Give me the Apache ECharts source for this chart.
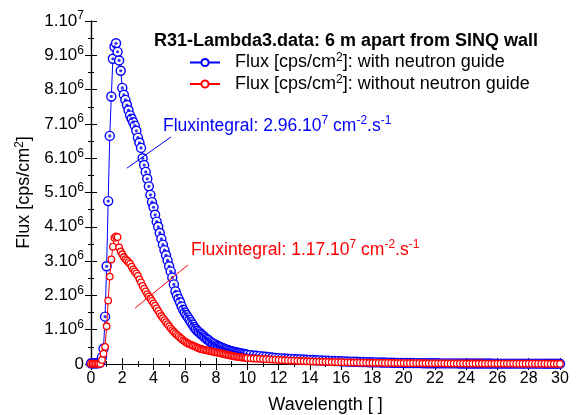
<!DOCTYPE html>
<html><head><meta charset="utf-8">
<script src="https://cdn.jsdelivr.net/npm/echarts@6/dist/echarts.min.js"></script>
<style>html,body{margin:0;padding:0;background:#fff}#c{width:580px;height:415px}</style>
</head><body><div id="c"></div>
<script>
// Wavelength values (x)
const wavelength = [
0,0.1,0.2,0.3,0.4,0.5,0.6,0.7,0.8,0.9,
1,1.1,1.2,1.3,1.4,1.5,1.6,1.7,1.8,1.9,
2,2.1,2.2,2.3,2.4,2.5,2.6,2.7,2.8,2.9,
3,3.1,3.2,3.3,3.4,3.5,3.6,3.7,3.8,3.9,
4,4.1,4.2,4.3,4.4,4.5,4.6,4.7,4.8,4.9,
5,5.1,5.2,5.3,5.4,5.5,5.6,5.7,5.8,5.9,
6,6.1,6.2,6.3,6.4,6.5,6.6,6.7,6.8,6.9,
7,7.1,7.2,7.3,7.4,7.5,7.6,7.7,7.8,7.9,
8,8.1,8.2,8.3,8.4,8.5,8.6,8.7,8.8,8.9,
9,9.1,9.2,9.3,9.4,9.5,9.6,9.7,9.8,9.9,
10,
10.2,10.4,10.6,10.8,11,11.2,11.4,11.6,11.8,12,
12.2,12.4,12.6,12.8,13,13.2,13.4,13.6,13.8,14,
14.2,14.4,14.6,14.8,15,15.2,15.4,15.6,15.8,16,
16.2,16.4,16.6,16.8,17,17.2,17.4,17.6,17.8,18,
18.2,18.4,18.6,18.8,19,19.2,19.4,19.6,19.8,20,
20.2,20.4,20.6,20.8,21,21.2,21.4,21.6,21.8,22,
22.2,22.4,22.6,22.8,23,23.2,23.4,23.6,23.8,24,
24.2,24.4,24.6,24.8,25,25.2,25.4,25.6,25.8,26,
26.2,26.4,26.6,26.8,27,27.2,27.4,27.6,27.8,28,
28.2,28.4,28.6,28.8,29,29.2,29.4,29.6,29.8,30
];
// Flux with neutron guide, in units of 10^6 cps/cm^2
const fluxWithGuide = [
0.02,0.02,0.02,0.02,0.02,0.03,0.05,0.2,0.45,1.38,
2.85,4.75,6.65,7.8,8.9,9.25,9.35,9.1,8.85,8.55,
8.05,7.85,7.7,7.55,7.4,7.25,7.15,7.05,6.95,6.8,
6.6,6.45,6.3,6.0,5.8,5.6,5.4,5.18,4.93,4.72,
4.57,4.35,4.15,4.0,3.82,3.65,3.48,3.32,3.17,3.02,
2.85,2.7,2.52,2.32,2.12,2.0,1.9,1.8,1.68,1.58,
1.5,1.43,1.36,1.29,1.22,1.15,1.08,1.02,0.97,0.93,
0.89,0.85,0.81,0.77,0.73,0.7,0.66,0.63,0.6,0.58,
0.55,0.53,0.51,0.49,0.47,0.45,0.43,0.42,0.4,0.38,
0.37,0.36,0.35,0.34,0.33,0.32,0.31,0.3,0.29,0.28,
0.27,
0.26,0.25,0.24,0.23,0.22,0.21,0.2,0.19,0.18,0.17,
0.165,0.16,0.155,0.15,0.145,0.14,0.135,0.13,0.125,0.12,
0.115,0.11,0.105,0.1,0.097,0.094,0.09,0.087,0.084,0.08,
0.077,0.074,0.07,0.067,0.064,0.06,0.057,0.054,0.052,0.05,
0.048,0.046,0.044,0.042,0.04,0.038,0.036,0.034,0.032,0.03,
0.029,0.028,0.027,0.026,0.025,0.024,0.023,0.022,0.021,0.02,
0.02,0.019,0.019,0.018,0.018,0.017,0.017,0.016,0.016,0.015,
0.015,0.015,0.014,0.014,0.014,0.013,0.013,0.013,0.012,0.012,
0.012,0.012,0.011,0.011,0.011,0.011,0.01,0.01,0.01,0.01,
0.01,0.01,0.01,0.01,0.009,0.009,0.009,0.009,0.009,0.009
];
// Flux without neutron guide, in units of 10^6 cps/cm^2
const fluxWithoutGuide = [
0.01,0.01,0.01,0.01,0.01,0.01,0.01,0.12,0.3,0.5,
1.1,1.85,2.55,3.05,3.42,3.68,3.72,3.7,3.4,3.28,
3.2,3.12,3.06,3.02,2.97,2.92,2.84,2.76,2.7,2.64,
2.57,2.47,2.38,2.28,2.2,2.12,2.04,1.97,1.91,1.84,
1.77,1.7,1.62,1.55,1.47,1.4,1.34,1.28,1.22,1.16,
1.1,1.04,0.99,0.94,0.89,0.85,0.81,0.77,0.73,0.69,
0.66,0.63,0.6,0.58,0.56,0.54,0.52,0.5,0.48,0.46,
0.44,0.43,0.42,0.41,0.4,0.39,0.38,0.37,0.36,0.35,
0.34,0.33,0.32,0.31,0.3,0.29,0.28,0.27,0.26,0.25,
0.24,0.23,0.22,0.215,0.21,0.2,0.195,0.19,0.185,0.18,
0.17,
0.165,0.16,0.155,0.15,0.145,0.14,0.135,0.13,0.125,0.12,
0.115,0.11,0.105,0.1,0.096,0.092,0.088,0.084,0.08,0.077,
0.074,0.071,0.068,0.065,0.062,0.06,0.058,0.056,0.054,0.052,
0.05,0.048,0.046,0.044,0.042,0.04,0.039,0.038,0.037,0.036,
0.035,0.034,0.033,0.032,0.031,0.03,0.029,0.028,0.027,0.026,
0.025,0.024,0.024,0.023,0.023,0.022,0.022,0.021,0.021,0.02,
0.02,0.019,0.019,0.018,0.018,0.017,0.017,0.016,0.016,0.015,
0.015,0.015,0.014,0.014,0.014,0.013,0.013,0.013,0.012,0.012,
0.012,0.011,0.011,0.011,0.011,0.01,0.01,0.01,0.01,0.01,
0.01,0.009,0.009,0.009,0.009,0.009,0.008,0.008,0.008,0.008
];
// Annotation line endpoints [wavelength, flux(1e6)]
const annotBlue = [[2.3, 5.71], [5.12, 6.62]];
const annotRed = [[2.82, 1.63], [6.21, 2.89]];
const xTicks = {min: 0, max: 30, interval: 2};
const yTicks = {min: 0, max: 10, interval: 1};

const FONT = 'Liberation Sans, Arial, sans-serif';
const BLUE = '#0000ff', RED = '#ff0000';
const pairs = (ys) => wavelength.map((x, i) => [x, ys[i]]);

const chart = echarts.init(document.getElementById('c'), null, {renderer: 'canvas'});
const supRich = {
  b: {fontSize: 17, fontFamily: FONT, color: '#000'},
  s: {fontSize: 12, fontFamily: FONT, color: '#000', padding: [0, 0, 10, 0]}
};
const baseX = {
  type: 'value', min: xTicks.min, max: xTicks.max, interval: xTicks.interval,
  axisLine: {lineStyle: {color: '#000', width: 1.2}},
  splitLine: {show: false},
  axisTick: {inside: true, length: 6, lineStyle: {color: '#000'}},
  minorTick: {show: true, splitNumber: 2, length: 3, lineStyle: {color: '#000'}}
};
const baseY = {
  type: 'value', min: yTicks.min, max: yTicks.max, interval: yTicks.interval,
  axisLine: {show: true, lineStyle: {color: '#000', width: 1.2}},
  splitLine: {show: false},
  axisTick: {show: true, inside: true, length: 6, lineStyle: {color: '#000'}},
  minorTick: {show: true, splitNumber: 2, length: 3, lineStyle: {color: '#000'}}
};
chart.setOption({
  animation: false,
  backgroundColor: '#fff',
  grid: {left: 91, top: 21, width: 469, height: 343, containLabel: false, outerBoundsMode: 'none'},
  title: {
    text: 'R31-Lambda3.data: 6 m apart from SINQ wall',
    left: 149, top: 27,
    textStyle: {fontFamily: FONT, fontSize: 18, fontWeight: 'bold', color: '#000'}
  },
  legend: {
    orient: 'vertical', left: 184, top: 47, itemGap: 2, itemWidth: 30, itemHeight: 9,
    data: ['with', 'without'],
    formatter: (n) => n === 'with'
      ? '{a|Flux [cps/cm}{s|2}{a|]: with neutron guide}'
      : '{a|Flux [cps/cm}{s|2}{a|]: without neutron guide}',
    textStyle: {
      color: '#000', fontFamily: FONT, fontSize: 18, padding: [0, 0, 0, 10],
      rich: {
        a: {fontSize: 18, fontFamily: FONT, color: '#000'},
        s: {fontSize: 12, fontFamily: FONT, color: '#000', padding: [0, 0, 9, 0]}
      }
    }
  },
  xAxis: [
    Object.assign({}, baseX, {
      position: 'bottom',
      name: 'Wavelength [ ]', nameLocation: 'middle', nameGap: 32,
      nameTextStyle: {fontFamily: FONT, fontSize: 18, color: '#000'},
      axisLabel: {fontFamily: FONT, fontSize: 16, color: '#000', margin: 7}
    }),
    Object.assign({}, baseX, {position: 'top', axisLabel: {show: false}})
  ],
  yAxis: [
    Object.assign({}, baseY, {
      position: 'left',
      name: '{a|Flux [cps/cm}{s|2}{a|]}', nameLocation: 'middle', nameGap: 55, nameRotate: 90,
      nameTextStyle: {
        fontFamily: FONT, fontSize: 18, color: '#000',
        rich: {
          a: {fontSize: 18, fontFamily: FONT, color: '#000'},
          s: {fontSize: 12, fontFamily: FONT, color: '#000', padding: [0, 0, 9, 0]}
        }
      },
      axisLabel: {
        margin: 7, rich: supRich,
        formatter: (v) => v === 0 ? '{b|0}' : (v === 10 ? '{b|1.10}{s|7}' : '{b|' + v + '.10}{s|6}')
      }
    }),
    Object.assign({}, baseY, {position: 'right', axisLabel: {show: false}})
  ],
  graphic: [
    {
      type: 'text', left: 163, top: 115,
      style: {
        text: '{a|Fluxintegral: 2.96.10}{s|7}{a| cm}{s|-2}{a|.s}{s|-1}',
        rich: {
          a: {fontSize: 17.5, fontFamily: FONT, fill: BLUE},
          s: {fontSize: 12, fontFamily: FONT, fill: BLUE, padding: [0, 0, 10, 0]}
        }
      }
    },
    {
      type: 'text', left: 191, top: 239,
      style: {
        text: '{a|Fluxintegral: 1.17.10}{s|7}{a| cm}{s|-2}{a|.s}{s|-1}',
        rich: {
          a: {fontSize: 17.5, fontFamily: FONT, fill: RED},
          s: {fontSize: 12, fontFamily: FONT, fill: RED, padding: [0, 0, 10, 0]}
        }
      }
    }
  ],
  series: [
    {
      name: 'with', type: 'line', data: pairs(fluxWithGuide),
      symbol: 'circle', symbolSize: 9, showAllSymbol: true,
      itemStyle: {color: '#fff', borderColor: BLUE, borderWidth: 1.4},
      lineStyle: {color: BLUE, width: 1},
      markLine: {
        silent: true, symbol: 'none', label: {show: false},
        lineStyle: {color: BLUE, width: 1, type: 'solid'},
        data: [[{coord: annotBlue[0]}, {coord: annotBlue[1]}]]
      },
      z: 2
    },
    {
      name: 'withDot', type: 'scatter', data: pairs(fluxWithGuide),
      symbol: 'circle', symbolSize: 3.2, itemStyle: {color: BLUE}, silent: true, z: 3
    },
    {
      name: 'without', type: 'line', data: pairs(fluxWithoutGuide),
      symbol: 'circle', symbolSize: 6.5, showAllSymbol: true,
      itemStyle: {color: '#fff', borderColor: RED, borderWidth: 1.3},
      lineStyle: {color: RED, width: 1},
      markLine: {
        silent: true, symbol: 'none', label: {show: false},
        lineStyle: {color: RED, width: 1, type: 'solid'},
        data: [[{coord: annotRed[0]}, {coord: annotRed[1]}]]
      },
      z: 4
    }
  ]
});
</script>
</body></html>
